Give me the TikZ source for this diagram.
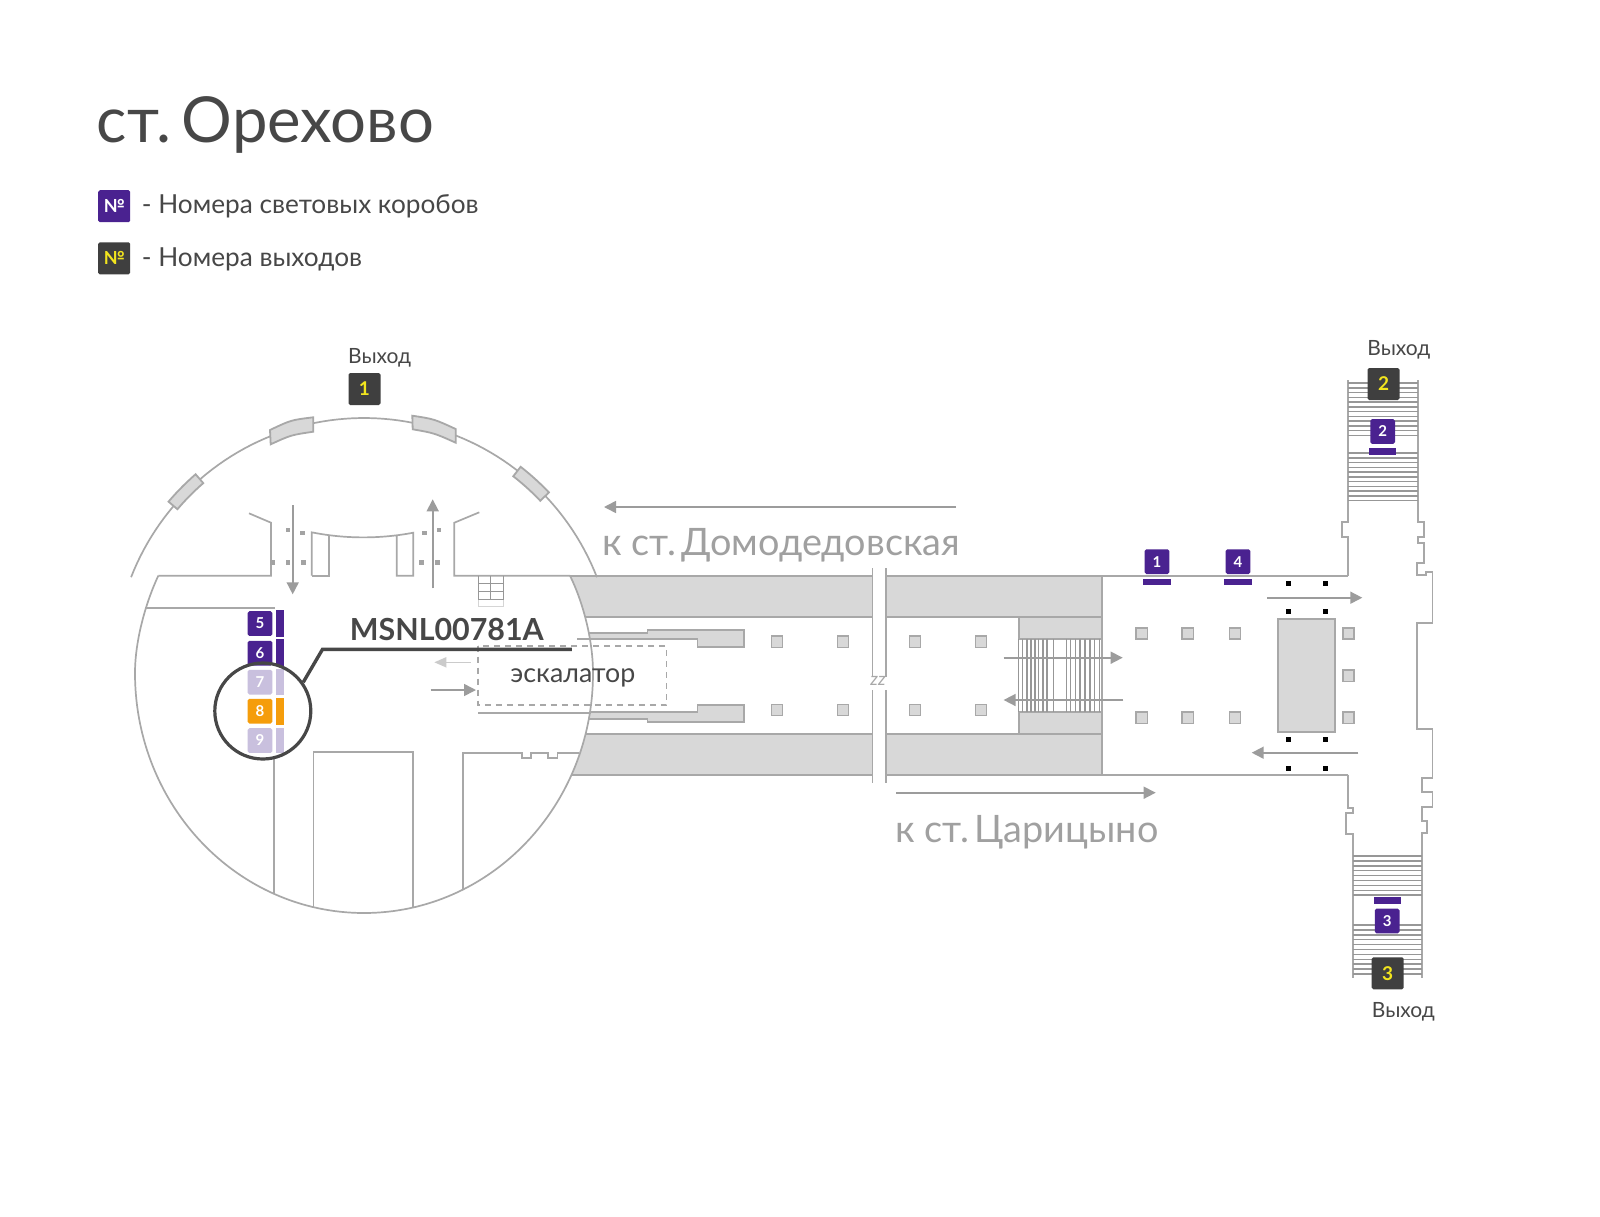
\documentclass[tikz,border=0pt]{standalone}
\usepackage{fontspec}
\setmainfont{Lato}
\usetikzlibrary{arrows.meta}
\definecolor{wallc}{HTML}{A8A8A8}
\definecolor{fillc}{HTML}{D8D8D8}
\definecolor{arrowc}{HTML}{9C9C9C}
\definecolor{inkc}{HTML}{474747}
\definecolor{purp}{HTML}{4A2290}
\definecolor{lav}{HTML}{C9C0DE}
\definecolor{orng}{HTML}{F59D0B}
\definecolor{darkb}{HTML}{3F3F3F}
\definecolor{yell}{HTML}{F2E51E}
\definecolor{dotc}{HTML}{A3A3A3}
\tikzset{
  x=0.5pt,y=-0.5pt,
  wall/.style={draw=wallc,line width=0.85pt,line join=miter},
  massive/.style={draw=wallc,fill=fillc,line width=0.9pt},
  column/.style={draw=wallc,fill=fillc,line width=0.8pt,minimum size=5.6pt,inner sep=0pt},
  stairline/.style={draw=wallc!90!black,line width=0.75pt},
  flow/.style={draw=arrowc,line width=0.8pt,-{Triangle[length=6pt,width=6pt,fill=arrowc]}},
  flowpale/.style={draw=wallc!60,line width=0.8pt,-{Triangle[length=6pt,width=5pt,fill=wallc!60]}},
  gdot/.style={fill=dotc,minimum size=2.3pt,inner sep=0pt},
  kdot/.style={fill=black,minimum size=2.5pt,inner sep=0pt},
  box/.style={fill=purp,rounded corners=0.8pt,minimum size=12.3pt,inner sep=0pt,text=white,font=\bfseries\fontsize{7.5}{8}\selectfont},
  boxpale/.style={box,fill=lav},
  boxorange/.style={box,fill=orng},
  exitbox/.style={fill=darkb,rounded corners=0.8pt,minimum size=16pt,inner sep=0pt,text=yell,font=\bfseries\fontsize{9.5}{10}\selectfont},
  lab/.style={anchor=base west,inner sep=0pt,text=inkc},
  glab/.style={anchor=base west,inner sep=0pt,text=wallc!95!black},
}
\newcommand{\gatearc}[4]{\draw[massive] plot[domain=#1:#2,samples=8] ({364+#3*cos(\x)},{668-#3*sin(\x)}) -- plot[domain=#2:#1,samples=8] ({364+#4*cos(\x)},{668-#4*sin(\x)}) -- cycle;}
\begin{document}
\begin{tikzpicture}
\useasboundingbox[fill=white] (0,0) rectangle (1600,1216);
% corridor bands
\fill[fillc] (540,576) rectangle (1101.7,617.3);
\fill[fillc] (540,733.7) rectangle (1101.7,774.7);
\draw[wall] (540,617.3) -- (1101.7,617.3);
\draw[wall] (540,733.7) -- (1101.7,733.7);
\draw[wall] (540,774.7) -- (1348.3,774.7);
\draw[wall] (454.3,575.7) -- (1348.3,575.7);
\draw[wall] (1101.7,575.7) -- (1101.7,774.7);
% platforms
\draw[massive] (560,632.7) -- (647.5,632.7) -- (647.5,630) -- (744,630) -- (744,646.7) -- (697.5,646.7) -- (697.5,638.7) -- (560,638.7) -- cycle;
\draw[massive] (560,712.3) -- (697.5,712.3) -- (697.5,704.7) -- (744,704.7) -- (744,721.7) -- (647.5,721.7) -- (647.5,719.3) -- (560,719.3) -- cycle;
% end blocks and escalator
\draw[massive] (1018.6,617.3) rectangle (1101.7,638.7);
\draw[massive] (1018.6,712.3) rectangle (1101.7,733.7);
\foreach \x in {1018.6,1022.6,1026.8,1030.8,1034.8,1038.7,1043,1047.2,1053.6,1066.4,1070.7,1075.3,1080,1085,1090,1094.7,1099.3}
  \draw[stairline] (\x,638.7) -- (\x,712.3);
% break
\fill[white] (872.5,560) rectangle (885.7,790);
\draw[wall] (872.5,568) -- (872.5,676.7) (885.7,568) -- (885.7,676.7);
\draw[wall] (872.5,690) -- (872.5,783) (885.7,690) -- (885.7,783);
\node[anchor=center,inner sep=0pt,text=wallc,font=\itshape\fontsize{9}{10}\selectfont] (breakmark) at (878,681) {zz};
% columns
\foreach \x in {777,843,915,981}
  \foreach \y in {641.7,710}
    \node[column] at (\x,\y) {};
\foreach \x in {1141.7,1187.7,1235,1348.3}
  \foreach \y in {633.3,717.7}
    \node[column] at (\x,\y) {};
\node[column] at (1348.3,675.7) {};
\draw[massive] (1278,618.7) rectangle (1335,732);
\foreach \x in {1288.3,1325}
  \foreach \y in {583,611.7,739.3,768.3}
    \node[kdot] at (\x,\y) {};
% right hall walls and stairs
\draw[wall] (1348.3,575.7) -- (1348.3,536.7) -- (1341.7,536.7) -- (1341.7,521.7) -- (1348.3,521.7) -- (1348.3,380);
\draw[wall] (1418,380) -- (1418,521.7) -- (1424.3,521.7) -- (1424.3,536.7) -- (1418,536.7) -- (1418,543.3) -- (1424.3,543.3) -- (1424.3,563.3) -- (1416.7,563.3) -- (1416.7,575) -- (1426,575) -- (1426,571.7) -- (1432.5,571.7) -- (1432.5,623.3) -- (1416.7,623.3) -- (1416.7,728.7) -- (1432.5,728.7) -- (1432.5,778.3) -- (1422.3,778.3) -- (1422.3,791.7) -- (1432.5,791.7) -- (1432.5,806.7) -- (1422.3,806.7) -- (1422.3,821) -- (1427.3,821) -- (1427.3,833.3) -- (1422.3,833.3) -- (1422.3,978.3);
\draw[wall] (1348.3,774.7) -- (1348.3,808.3) -- (1353.3,808.3) -- (1353.3,813.3) -- (1345.7,813.3) -- (1345.7,834) -- (1353.3,834) -- (1353.3,978.3);
\foreach \y in {383,387.75,...,438} \draw[stairline] (1348.3,\y) -- (1418,\y);
\foreach \y in {453,457.75,...,502.5} \draw[stairline] (1348.3,\y) -- (1418,\y);
\foreach \y in {856,860.9,...,896} \draw[stairline] (1353.3,\y) -- (1422.3,\y);
\foreach \y in {925,929.9,...,974} \draw[stairline] (1353.3,\y) -- (1422.3,\y);
% rotunda body
\draw[wall,fill=white] (158.3,575.7) .. controls (146,602) and (135,640) .. (135,673) .. controls (135,806) and (237.5,913) .. (364,913) .. controls (490.5,913) and (593,806) .. (593,673) .. controls (593,640) and (583,602) .. (570,575.7);
\draw[wall] (158.3,575.7) -- (271,575.7) -- (271,522.7) -- (249,513.3);
\draw[wall] (479.3,512.3) -- (454.3,522.7) -- (454.3,575.7) -- (570,575.7);
\draw[wall] (311.7,575.7) -- (311.7,532.3) .. controls (345,539) and (380,539) .. (413.3,532.7) -- (413.3,575.7) -- (396.7,575.7) -- (396.7,535.7);
\draw[wall] (311.7,575.7) -- (328.7,575.7) -- (328.7,535.7);
% upper arc and gates
\draw[wall] plot[domain=21.3:158.7,samples=80] ({364+250*cos(\x)},{668-250*sin(\x)});
\draw[massive] (412.3,415.7) .. controls (434,419) .. (455.7,429) -- (455.7,442.7) .. controls (434,433) .. (412.7,429.3) -- cycle;
\draw[massive] (313.3,417.3) .. controls (291,420) .. (270,430) -- (270.7,444.3) .. controls (291,435) .. (313.3,431.7) -- cycle;
\gatearc{131}{139.6}{256.7}{245}
\gatearc{43.5}{52.1}{255}{243}
% rotunda dots
\foreach \x/\y in {288/530,302.3/533,272.7/562.7,288/562.7,303.3/562.7,424.7/533,439/530,421.7/562.7,437.3/562.7}
  \node[gdot] at (\x,\y) {};
% rotunda stair
\foreach \x in {478.3,490.7,503.3} \draw[stairline] (\x,575.7) -- (\x,600);
\foreach \y in {583.7,591.7,599.3} \draw[stairline] (478.3,\y) -- (503.3,\y);
\draw[stairline,opacity=0.4] (478.3,606.7) -- (503.3,606.7) (478.3,600) -- (478.3,606.7) (503.3,600) -- (503.3,606.7);
% rotunda rooms
\draw[wall] (145,608.3) -- (275,608.3);
\draw[wall] (274.3,756) -- (274.3,893);
\draw[wall] (313.6,907) -- (313.6,751.7) -- (412.9,751.7) -- (412.9,907);
\draw[wall] (462.9,889.3) -- (462.9,753.3) -- (521.8,753.3) -- (521.8,757.7) -- (530.7,757.7) -- (530.7,753.3) -- (547.9,753.3) -- (547.9,757.7) -- (557.5,757.7) -- (557.5,753.3) -- (579,753.3);
\draw[wall] (577,638.7) -- (592,638.7);
\draw[wall] (478,712.7) -- (591,712.7);
% escalator box
\draw[draw=wallc,dashed,line width=0.8pt,dash pattern=on 3pt off 2.5pt] (478.2,645.7) rectangle (666.4,705);
% flow arrows
\draw[flow] (292.7,505) -- (292.7,594.3);
\draw[flow] (432.7,588.3) -- (432.7,499.3);
\draw[flowpale] (470.7,662.3) -- (434.3,662.3);
\draw[flow] (430.7,690) -- (476,690);
\draw[flow] (1003.6,657.7) -- (1122.7,657.7);
\draw[flow] (1123.3,700) -- (1003.6,700);
\draw[flow] (1267.3,597.7) -- (1362.3,597.7);
\draw[flow] (1358.3,752.7) -- (1251.7,752.7);
\draw[flow] (896.4,792.7) -- (1155.7,792.7);
\draw[flow] (956,507) -- (604,507);
% light boxes
\foreach \n/\cy/\sty in {5/623.5/box,6/653.2/box,7/682.2/boxpale,8/711.2/boxorange,9/740.5/boxpale}
  \node[\sty] (lb\n) at (260,\cy) {\n};
\fill[purp] (276.4,610) rectangle (283.6,636.7);
\fill[purp] (276.4,639.3) rectangle (283.6,665.7);
\fill[lav] (276.4,669.3) rectangle (283.6,695);
\fill[orng] (276.4,697.7) rectangle (283.6,725);
\fill[lav] (276.4,727.7) rectangle (283.6,753.3);
\node[box] (lb1) at (1157,561.7) {1};
\fill[purp] (1143.3,578.7) rectangle (1170.7,585);
\node[box] (lb4) at (1238,561.7) {4};
\fill[purp] (1224.3,578.7) rectangle (1251.7,585);
\node[box] (lb2) at (1382.7,431.5) {2};
\fill[purp] (1368.7,448) rectangle (1396.3,455);
\node[box] (lb3) at (1387.2,921) {3};
\fill[purp] (1373.7,897) rectangle (1400.7,904);
% exit boxes
\node[exitbox] (ex1) at (364.5,389) {1};
\node[exitbox] (ex2) at (1383.5,384) {2};
\node[exitbox] (ex3) at (1387.7,973.3) {3};
% callout
\node[minimum size=48pt,inner sep=0pt,circle,draw=inkc,line width=1.6pt] (focus) at (262.8,711) {};
\coordinate (elbow) at (322.5,649.3);
\coordinate (endp) at (571.8,649.3);
\draw[draw=inkc,line width=1.7pt,line join=miter] (303.2,682.3) -- (elbow) -- (endp);
% texts
\node[lab,font=\fontsize{31.7}{33}\selectfont] (title) at (96.5,142.5) {\spaceskip=2.5pt ст. Орехово};
\node[box,minimum size=16pt,font=\bfseries\fontsize{9}{10}\selectfont] (lg1) at (114.2,206.2) {№};
\node[exitbox,font=\bfseries\fontsize{9}{10}\selectfont] (lg2) at (114.2,258.3) {№};
\node[lab,font=\fontsize{13.1}{15}\selectfont] (lgt1) at (141.5,213.8) {- Номера световых коробов};
\node[lab,font=\fontsize{13.1}{15}\selectfont] (lgt2) at (141.5,266.5) {- Номера выходов};
\node[lab,font=\fontsize{10.5}{13}\selectfont] (exl1) at (347.8,363.8) {Выход};
\node[lab,font=\fontsize{10.5}{13}\selectfont] (exl2) at (1367,355.5) {Выход};
\node[lab,font=\fontsize{10.5}{13}\selectfont] (exl3) at (1371.5,1017) {Выход};
\node[glab,font=\fontsize{18.9}{20}\selectfont] (dir1) at (602,555) {\spaceskip=4.7pt к ст.\spaceskip=1.2pt{} Домодедовская};
\node[glab,font=\fontsize{18.9}{20}\selectfont] (dir2) at (895,842) {\spaceskip=4.7pt к ст.\spaceskip=1.2pt{} Царицыно};
\node[lab,font=\fontsize{13.4}{15}\selectfont] (esc) at (510,682.7) {эскалатор};
\node[lab,font=\bfseries\fontsize{15.2}{18}\selectfont] (code) at (349.5,640) {MSNL00781A};
\end{tikzpicture}
\end{document}
